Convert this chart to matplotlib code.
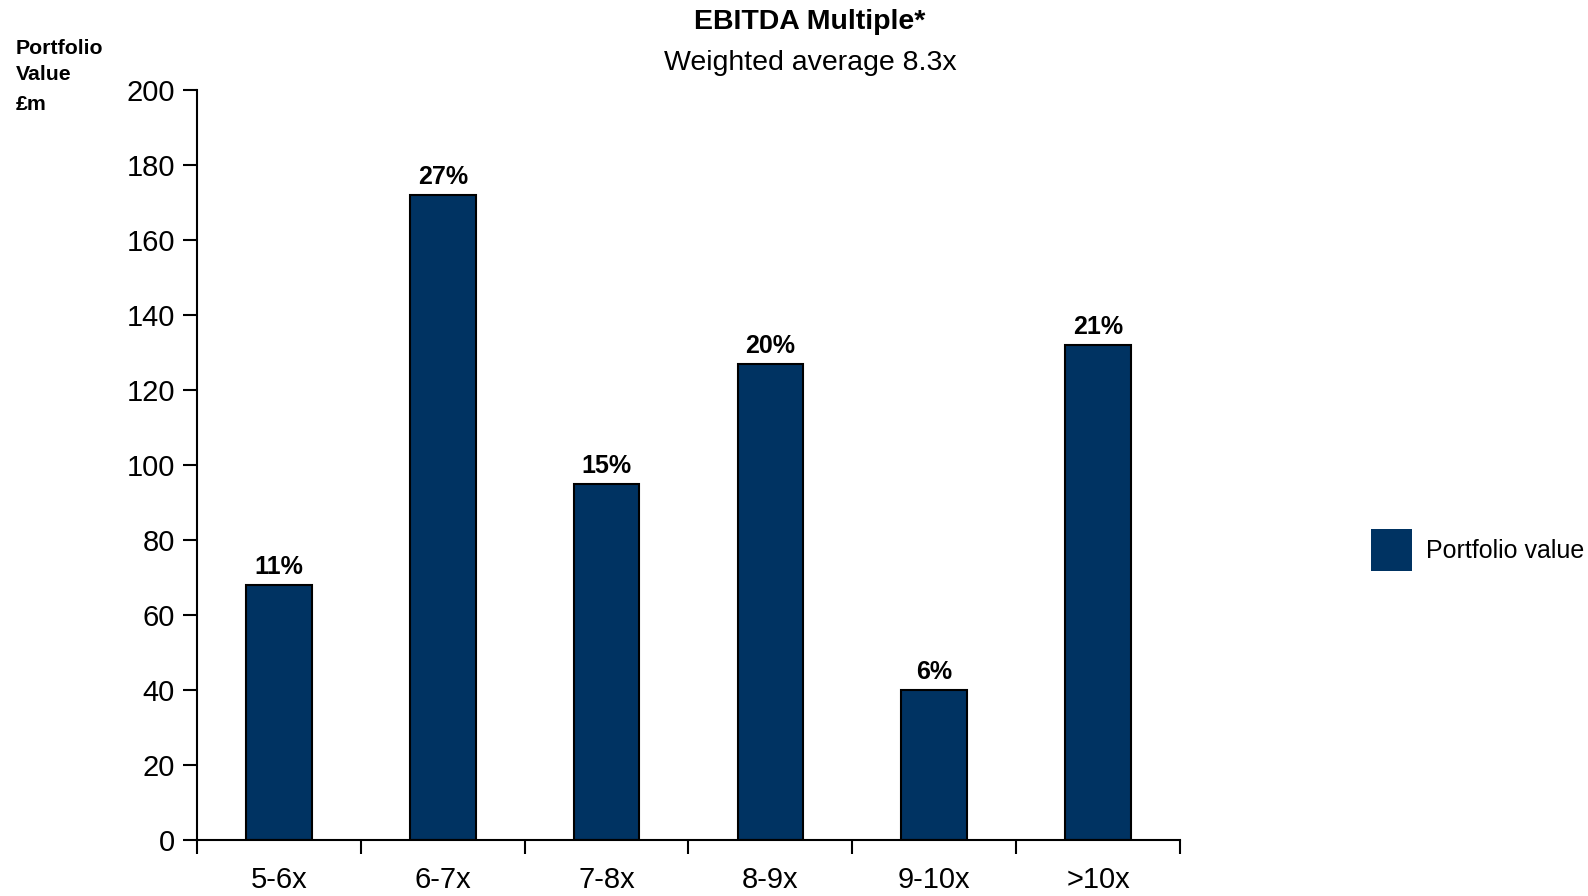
import matplotlib
matplotlib.use('Agg')
import matplotlib.pyplot as plt

plt.rcParams['font.family'] = ['Liberation Sans', 'DejaVu Sans']

# data
categories = ['5-6x', '6-7x', '7-8x', '8-9x', '9-10x', '>10x']
values = [68, 172, 95, 127, 40, 132]
shares = ['11%', '27%', '15%', '20%', '6%', '21%']

bar_color = '#003362'

fig = plt.figure(figsize=(15.88, 8.96), dpi=100)
ax = fig.add_axes([197 / 1588, 1 - 840 / 896, (1180 - 197) / 1588, (840 - 90) / 896])

x = list(range(len(categories)))
bars = ax.bar(x, values, width=0.4, color=bar_color, edgecolor='black',
              linewidth=1.5, label='Portfolio value', zorder=2)

# percentage labels on top of each bar
for b, s in zip(bars, shares):
    ax.annotate(s, (b.get_x() + b.get_width() / 2, b.get_height()),
                xytext=(0, 4), textcoords='offset points',
                ha='center', va='bottom', fontsize=18, fontweight='bold')

ax.set_xlim(-0.5, len(categories) - 0.5)
ax.set_ylim(0, 200)
ax.set_yticks(range(0, 201, 20))

# tick marks at the category boundaries, labels in the middle
ax.set_xticks([i - 0.5 for i in range(len(categories) + 1)])
ax.set_xticklabels([])
ax.set_xticks(x, minor=True)
ax.set_xticklabels(categories, minor=True)
ax.tick_params(axis='x', which='major', length=10, width=1.5, direction='out')
ax.tick_params(axis='x', which='minor', length=0, pad=19, labelsize=21)
ax.tick_params(axis='y', length=10, width=1.5, direction='out', pad=6, labelsize=21)

for side in ['top', 'right']:
    ax.spines[side].set_visible(False)
for side in ['left', 'bottom']:
    ax.spines[side].set_linewidth(1.5)

# titles
fig.text(810 / 1588, 1 - 22 / 896, 'EBITDA Multiple*', ha='center', va='center',
         fontsize=20.5, fontweight='bold')
fig.text(810 / 1588, 1 - 63 / 896, 'Weighted average 8.3x', ha='center', va='center',
         fontsize=20.5)

# y-axis caption
fig.text(16 / 1588, 1 - 48 / 896, 'Portfolio', ha='left', va='center', fontsize=15.3, fontweight='bold')
fig.text(16 / 1588, 1 - 74 / 896, 'Value', ha='left', va='center', fontsize=15.3, fontweight='bold')
fig.text(16 / 1588, 1 - 105 / 896, '£m', ha='left', va='center', fontsize=15.3, fontweight='bold')

leg = fig.legend(loc='center left', bbox_to_anchor=(1371 / 1588, 1 - 550 / 896),
                 frameon=False, fontsize=18, handlelength=1.65, handleheight=2.2,
                 handletextpad=0.55, borderpad=0, borderaxespad=0)
leg.legend_handles[0].set_edgecolor('none')

fig.savefig('out.png', dpi=100)
